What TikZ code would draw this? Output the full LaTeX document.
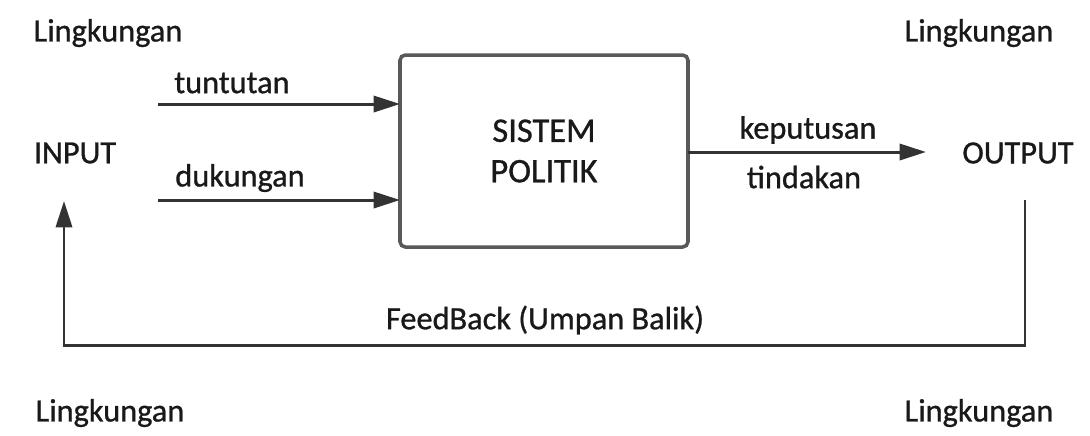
\documentclass[tikz,border=0pt]{standalone}
\usepackage{fontspec}
\setmainfont{Carlito}[FakeBold=0.9]
\usetikzlibrary{arrows.meta}
\begin{document}
\begin{tikzpicture}[x=0.01cm,y=-0.01cm,
  lbl/.style={inner sep=0pt,font=\fontsize{9.2}{11}\selectfont,text=black!90},
  conn/.style={line width=0.85pt,draw=black!80},
  arr/.style={conn,-{Triangle[length=7.5pt,width=4.6pt]}}]
\useasboundingbox (0,0) rectangle (1090,435);
% environment labels
\node[lbl] (env1) at (108,33) {Lingkungan};
\node[lbl] (env2) at (979,33) {Lingkungan};
\node[lbl] (env3) at (110,413) {Lingkungan};
\node[lbl] (env4) at (979,413) {Lingkungan};
% system box
\draw[draw=black!65,line width=1pt,rounded corners=1.5pt] (400,55) rectangle (688,247);
\coordinate (sysE) at (688,151);
\node[lbl,font=\fontsize{9.8}{11.5}\selectfont,align=center] (sys) at (544,151) {SISTEM\\[0pt]POLITIK};
% input side
\node[lbl] (input) at (75,153) {INPUT};
\node[lbl] (tunt) at (232,83) {tuntutan};
\node[lbl] (duk) at (240,178) {dukungan};
\coordinate (t0) at (158,104);
\coordinate (t1) at (400,104);
\coordinate (d0) at (158,200);
\coordinate (d1) at (400,200);
\draw[arr] (t0) -- (t1);
\draw[arr] (d0) -- (d1);
% output side
\node[lbl] (output) at (1018,153) {OUTPUT};
\node[lbl] (kep) at (808,130) {keputusan};
\node[lbl] (tin) at (804,177) {tindakan};
\coordinate (o1) at (926,152);
\draw[arr] (sysE |- o1) -- (o1);
% feedback
\coordinate (f1) at (1025,200);
\coordinate (f2) at (1025,345);
\coordinate (f3) at (64,345);
\coordinate (f4) at (64,201);
\draw[arr] (f1) -- (f2) -- (f3) -- (f4);
\node[lbl] (fb) at (545,320) {FeedBack (Umpan Balik)};
\end{tikzpicture}
\end{document}
